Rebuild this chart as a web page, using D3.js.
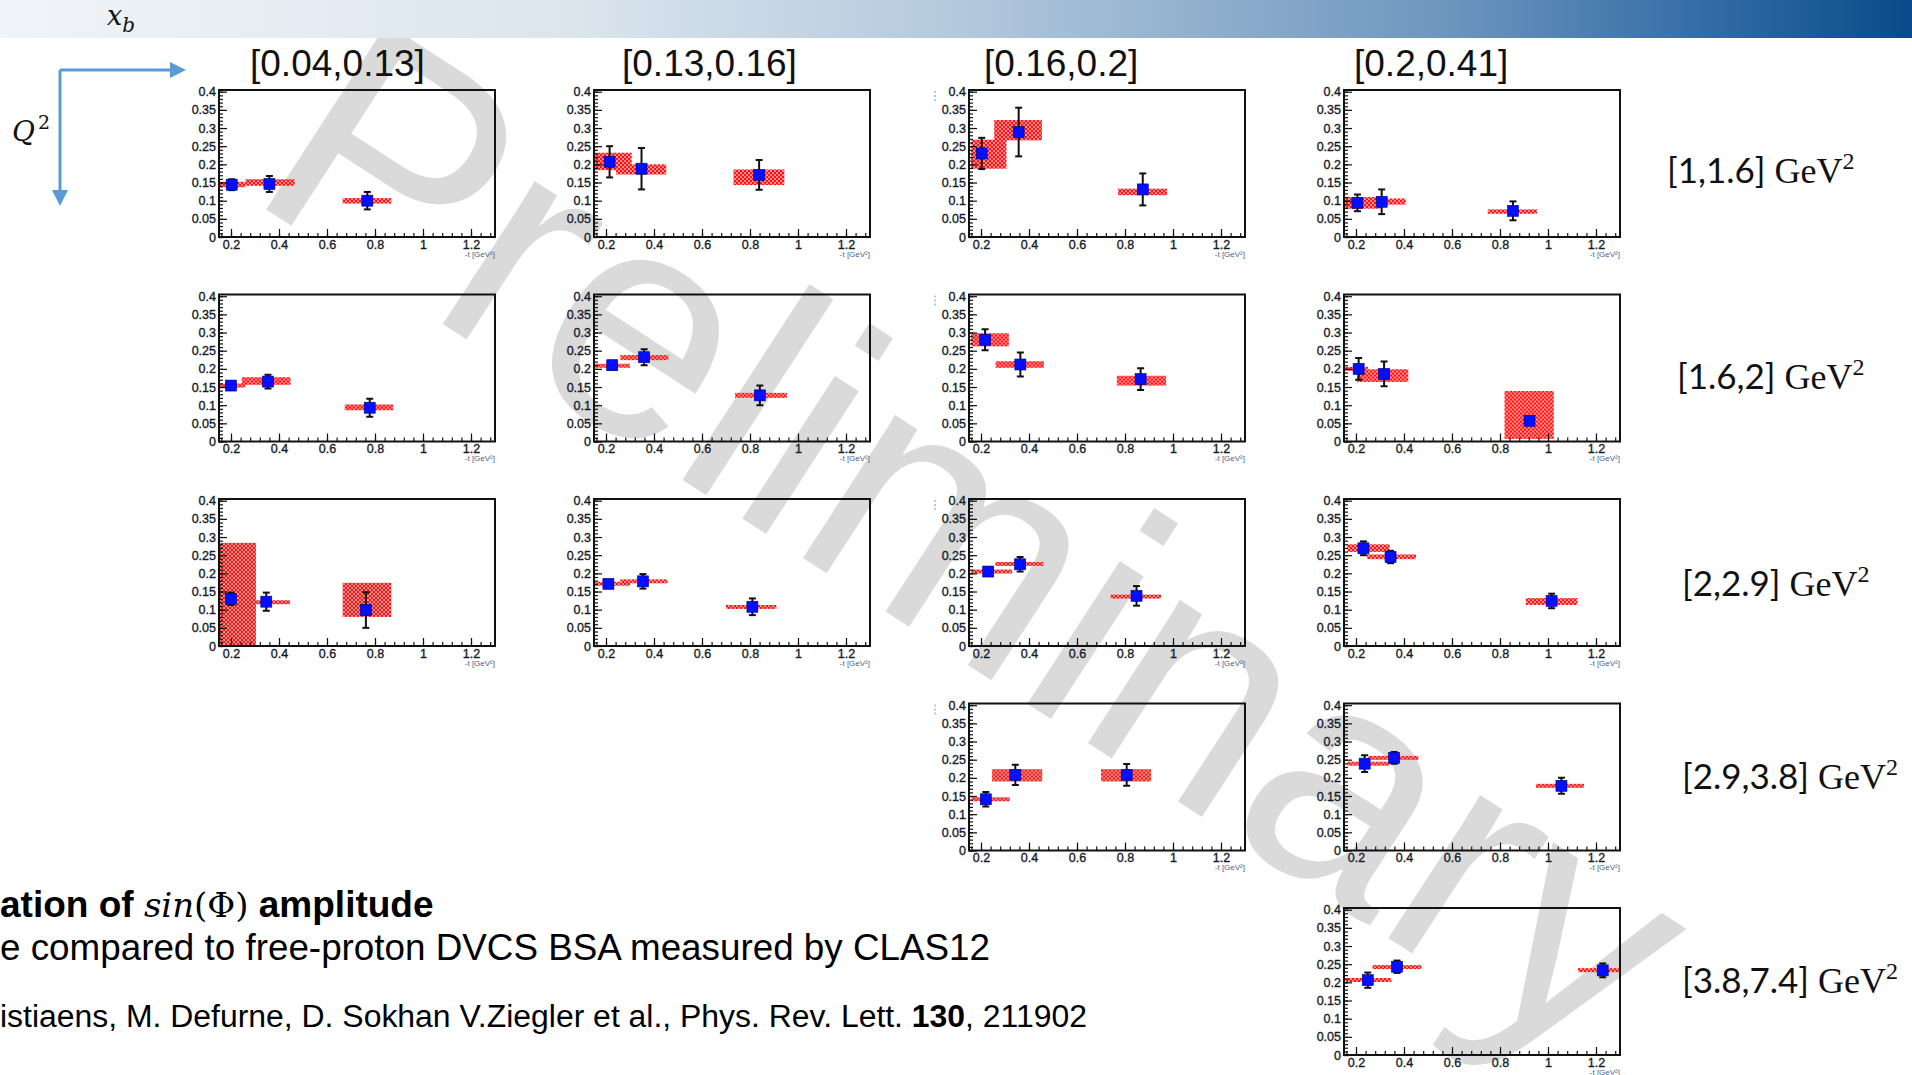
<!DOCTYPE html>
<html>
<head>
<meta charset="utf-8">
<script src="https://cdn.jsdelivr.net/npm/d3@7"></script>
<style>
  html, body { margin: 0; padding: 0; background: #fff; overflow: hidden; }
  svg { display: block; }
</style>
</head>
<body>
<svg id="slide" width="1912" height="1075"></svg>
<script>
// ---- bins and axis ticks ----
const xbBins = ["[0.04,0.13]", "[0.13,0.16]", "[0.16,0.2]", "[0.2,0.41]"];
const q2Bins = ["[1,1.6]", "[1.6,2]", "[2,2.9]", "[2.9,3.8]", "[3.8,7.4]"];
const tTicks = [0.2, 0.4, 0.6, 0.8, 1, 1.2];
const tTickLabels = ["0.2", "0.4", "0.6", "0.8", "1", "1.2"];
const aTicks = [0, 0.05, 0.1, 0.15, 0.2, 0.25, 0.3, 0.35, 0.4];
const aTickLabels = ["0", "0.05", "0.1", "0.15", "0.2", "0.25", "0.3", "0.35", "0.4"];

// ---- sin(phi) amplitude per (Q2, xB) bin ----
// each point: [-t, amplitude, stat. error, sys box -t low, sys box -t high, sys low, sys high]
const q2b1_xb1 = [[0.203, 0.144, 0.015, 0.15, 0.26, 0.137, 0.152],
                  [0.36, 0.146, 0.022, 0.26, 0.465, 0.141, 0.159],
                  [0.768, 0.1, 0.024, 0.665, 0.868, 0.092, 0.107]];
const q2b1_xb2 = [[0.215, 0.207, 0.043, 0.15, 0.307, 0.184, 0.232],
                  [0.348, 0.188, 0.057, 0.242, 0.451, 0.172, 0.2],
                  [0.838, 0.171, 0.041, 0.731, 0.943, 0.143, 0.186]];
const q2b1_xb3 = [[0.203, 0.23, 0.043, 0.159, 0.306, 0.188, 0.268],
                  [0.357, 0.289, 0.067, 0.255, 0.454, 0.266, 0.322],
                  [0.874, 0.131, 0.044, 0.771, 0.975, 0.115, 0.133]];
const q2b1_xb4 = [[0.206, 0.094, 0.023, 0.146, 0.302, 0.078, 0.11],
                  [0.307, 0.097, 0.034, 0.219, 0.407, 0.089, 0.106],
                  [0.854, 0.072, 0.026, 0.749, 0.954, 0.064, 0.076]];
const q2b2_xb1 = [[0.2, 0.154, 0.004, 0.15, 0.26, 0.152, 0.156],
                  [0.354, 0.165, 0.019, 0.245, 0.448, 0.156, 0.177],
                  [0.778, 0.093, 0.025, 0.674, 0.876, 0.086, 0.102]];
const q2b2_xb2 = [[0.226, 0.21, 0.012, 0.15, 0.3, 0.203, 0.214],
                  [0.359, 0.232, 0.022, 0.26, 0.46, 0.224, 0.238],
                  [0.841, 0.127, 0.027, 0.738, 0.954, 0.12, 0.134]];
const q2b2_xb3 = [[0.217, 0.28, 0.029, 0.159, 0.316, 0.262, 0.298],
                  [0.364, 0.212, 0.033, 0.261, 0.462, 0.203, 0.221],
                  [0.865, 0.172, 0.03, 0.766, 0.971, 0.154, 0.181]];
const q2b2_xb4 = [[0.211, 0.2, 0.03, 0.146, 0.25, 0.197, 0.203],
                  [0.317, 0.186, 0.034, 0.204, 0.418, 0.164, 0.199],
                  [0.923, 0.057, 0.007, 0.819, 1.024, 0.007, 0.139]];
const q2b3_xb1 = [[0.2, 0.13, 0.017, 0.15, 0.304, 0, 0.284],
                  [0.347, 0.122, 0.025, 0.294, 0.446, 0.116, 0.125],
                  [0.762, 0.099, 0.049, 0.665, 0.868, 0.08, 0.174]];
const q2b3_xb2 = [[0.21, 0.171, 0.006, 0.15, 0.3, 0.168, 0.175],
                  [0.354, 0.178, 0.02, 0.26, 0.456, 0.175, 0.181],
                  [0.81, 0.108, 0.023, 0.7, 0.91, 0.104, 0.111]];
const q2b3_xb3 = [[0.23, 0.205, 0.008, 0.16, 0.33, 0.203, 0.207],
                  [0.363, 0.225, 0.02, 0.26, 0.46, 0.223, 0.229],
                  [0.848, 0.138, 0.027, 0.74, 0.95, 0.134, 0.138]];
const q2b3_xb4 = [[0.231, 0.269, 0.019, 0.164, 0.34, 0.259, 0.28],
                  [0.344, 0.245, 0.017, 0.246, 0.45, 0.239, 0.252],
                  [1.015, 0.124, 0.02, 0.908, 1.123, 0.113, 0.132]];
const q2b4_xb3 = [[0.22, 0.141, 0.02, 0.16, 0.32, 0.139, 0.143],
                  [0.343, 0.208, 0.028, 0.246, 0.455, 0.19, 0.224],
                  [0.807, 0.208, 0.03, 0.7, 0.909, 0.19, 0.224]];
const q2b4_xb4 = [[0.236, 0.239, 0.023, 0.164, 0.34, 0.236, 0.242],
                  [0.359, 0.255, 0.016, 0.25, 0.46, 0.252, 0.258],
                  [1.056, 0.178, 0.022, 0.95, 1.15, 0.176, 0.18]];
const q2b5_xb4 = [[0.249, 0.206, 0.021, 0.156, 0.347, 0.202, 0.211],
                  [0.371, 0.243, 0.017, 0.269, 0.472, 0.238, 0.246],
                  [1.228, 0.233, 0.019, 1.125, 1.3, 0.232, 0.235]];

const panels = [
  { row: 0, col: 0, pts: q2b1_xb1 }, { row: 0, col: 1, pts: q2b1_xb2 },
  { row: 0, col: 2, pts: q2b1_xb3 }, { row: 0, col: 3, pts: q2b1_xb4 },
  { row: 1, col: 0, pts: q2b2_xb1 }, { row: 1, col: 1, pts: q2b2_xb2 },
  { row: 1, col: 2, pts: q2b2_xb3 }, { row: 1, col: 3, pts: q2b2_xb4 },
  { row: 2, col: 0, pts: q2b3_xb1 }, { row: 2, col: 1, pts: q2b3_xb2 },
  { row: 2, col: 2, pts: q2b3_xb3 }, { row: 2, col: 3, pts: q2b3_xb4 },
  { row: 3, col: 2, pts: q2b4_xb3 }, { row: 3, col: 3, pts: q2b4_xb4 },
  { row: 4, col: 3, pts: q2b5_xb4 }
];

// ---- layout ----
const W = 1912, H = 1075;
const PW = 276, PH = 147;
const colLeft = [219, 594, 969, 1344];
const rowTop = [90, 294.5, 499, 703.5, 908];
const colHeadX = [250, 622, 984, 1354];
const rowLabelX = [1667, 1677, 1682, 1682, 1682];
const rowLabelY = [183, 389, 596, 789, 993];

const svg = d3.select("#slide");
const defs = svg.append("defs");

// title bar gradient
const grad = defs.append("linearGradient").attr("id", "bar")
  .attr("x1", 0).attr("x2", 1).attr("y1", 0).attr("y2", 0);
[[0, "#f1f4f8"], [0.3, "#dbe5ee"], [0.5, "#b4c9dd"], [0.76, "#6c95be"], [0.9, "#2f6aa4"], [1, "#0a4a8a"]]
  .forEach(([o, c]) => grad.append("stop").attr("offset", o).attr("stop-color", c));

// hatched fill for the systematic boxes
const pat = defs.append("pattern").attr("id", "sysFill")
  .attr("patternUnits", "userSpaceOnUse").attr("width", 4).attr("height", 4);
pat.append("rect").attr("width", 4).attr("height", 4).attr("fill", "#ff1414");
pat.append("circle").attr("cx", 1).attr("cy", 1).attr("r", 0.85).attr("fill", "#fff");
pat.append("circle").attr("cx", 3).attr("cy", 3).attr("r", 0.85).attr("fill", "#fff");

svg.append("rect").attr("width", W).attr("height", H).attr("fill", "#fff");

// "Preliminary" watermark
svg.append("text")
  .attr("transform", "translate(980,540) rotate(33)")
  .attr("text-anchor", "middle").attr("dominant-baseline", "central")
  .attr("font-family", "Liberation Sans, Arial, sans-serif")
  .attr("font-size", 322).attr("fill", "#dadada")
  .text("Preliminary");

// title bar
svg.append("rect").attr("x", 0).attr("y", 0).attr("width", W).attr("height", 38).attr("fill", "url(#bar)");
const xbLab = svg.append("text").attr("x", 107).attr("y", 25)
  .attr("font-family", "DejaVu Serif, serif").attr("font-style", "italic").attr("font-size", 27).attr("fill", "#111");
xbLab.append("tspan").text("x");
xbLab.append("tspan").attr("dy", 7).attr("font-size", 20).text("b");

// bin-direction arrows
const arrowCol = "#5b9bd5";
svg.append("path").attr("d", "M60,70 H172 M60,70 V190")
  .attr("fill", "none").attr("stroke", arrowCol).attr("stroke-width", 3);
svg.append("path").attr("d", "M186,70 L170,62 L170,78 Z").attr("fill", arrowCol);
svg.append("path").attr("d", "M60,206 L52,190 L68,190 Z").attr("fill", arrowCol);
const qLab = svg.append("text").attr("x", 12).attr("y", 141)
  .attr("font-family", "DejaVu Serif, serif").attr("font-style", "italic").attr("font-size", 28).attr("fill", "#111");
qLab.append("tspan").text("Q");
qLab.append("tspan").attr("dy", -12).attr("dx", 3).attr("font-size", 19).attr("font-style", "normal").text("2");

// column headers (x_B bins)
xbBins.forEach((t, i) => {
  svg.append("text").attr("x", colHeadX[i]).attr("y", 76)
    .attr("font-family", "Liberation Sans, Arial, sans-serif").attr("font-size", 37).attr("fill", "#111")
    .text(t);
});

// row labels (Q2 bins)
q2Bins.forEach((t, i) => {
  const lab = svg.append("text").attr("x", rowLabelX[i]).attr("y", rowLabelY[i]).attr("fill", "#111");
  lab.append("tspan").attr("font-family", "Lato, Open Sans, sans-serif").attr("font-size", 35).text(t);
  lab.append("tspan").attr("font-family", "Liberation Serif, serif").attr("font-size", 36).attr("dx", 9).text("GeV");
  lab.append("tspan").attr("font-family", "Liberation Serif, serif").attr("font-size", 24).attr("dy", -14).text("2");
});

// ---- panels ----
const x = d3.scaleLinear().domain([0.15, 1.3]).range([0, PW]);
const y = d3.scaleLinear().domain([0, 0.4047]).range([PH, 0]);
const labelFont = "Liberation Sans, Arial, sans-serif";

panels.forEach((p, i) => {
  const g = svg.append("g").attr("transform", `translate(${colLeft[p.col]},${rowTop[p.row]})`);
  const clipId = "frame" + i;
  defs.append("clipPath").attr("id", clipId).append("rect").attr("width", PW).attr("height", PH);
  const plot = g.append("g").attr("clip-path", `url(#${clipId})`);

  // systematic boxes
  plot.selectAll("rect.sys").data(p.pts).join("rect").attr("class", "sys")
    .attr("x", d => x(d[3]))
    .attr("width", d => x(d[4]) - x(d[3]))
    .attr("y", d => Math.min(y(d[6]), (y(d[5]) + y(d[6])) / 2 - 2))
    .attr("height", d => Math.max(y(d[5]) - y(d[6]), 4))
    .attr("fill", "url(#sysFill)");

  // statistical error bars
  const eb = plot.selectAll("g.err").data(p.pts).join("g").attr("class", "err");
  eb.append("line").attr("x1", d => x(d[0])).attr("x2", d => x(d[0]))
    .attr("y1", d => y(d[1] - d[2])).attr("y2", d => y(d[1] + d[2]));
  eb.append("line").attr("x1", d => x(d[0]) - 3.5).attr("x2", d => x(d[0]) + 3.5)
    .attr("y1", d => y(d[1] - d[2])).attr("y2", d => y(d[1] - d[2]));
  eb.append("line").attr("x1", d => x(d[0]) - 3.5).attr("x2", d => x(d[0]) + 3.5)
    .attr("y1", d => y(d[1] + d[2])).attr("y2", d => y(d[1] + d[2]));
  eb.selectAll("line").attr("stroke", "#111").attr("stroke-width", 2);

  // markers
  plot.selectAll("rect.pt").data(p.pts).join("rect").attr("class", "pt")
    .attr("x", d => x(d[0]) - 5.5).attr("y", d => y(d[1]) - 5.5)
    .attr("width", 11).attr("height", 11)
    .attr("fill", "#0010ff").attr("stroke", "#00007a").attr("stroke-width", 0.6);

  // axes: ticks point into the frame
  const yMinor = g.append("g").call(d3.axisLeft(y).tickValues(d3.range(0, 0.4001, 0.01)).tickSize(-4).tickFormat(""));
  const yMajor = g.append("g").call(d3.axisLeft(y).tickValues(aTicks).tickSize(-8).tickPadding(3)
    .tickFormat((d, k) => aTickLabels[k]));
  const xMinor = g.append("g").attr("transform", `translate(0,${PH})`)
    .call(d3.axisBottom(x).tickValues(d3.range(0.16, 1.29, 0.04)).tickSize(-4).tickFormat(""));
  const xMajor = g.append("g").attr("transform", `translate(0,${PH})`)
    .call(d3.axisBottom(x).tickValues(tTicks).tickSize(-8).tickPadding(2)
      .tickFormat((d, k) => tTickLabels[k]));
  [yMinor, yMajor, xMinor, xMajor].forEach(a => {
    a.select(".domain").remove();
    a.selectAll(".tick line").attr("stroke", "#111").attr("stroke-width", 1.2);
    a.selectAll(".tick text").attr("font-family", labelFont).attr("font-size", 12.5)
      .attr("fill", "#141c2a").attr("stroke", "#141c2a").attr("stroke-width", 0.35);
  });
  xMajor.selectAll(".tick text").attr("dy", "0.78em");

  // frame
  g.append("rect").attr("width", PW).attr("height", PH)
    .attr("fill", "none").attr("stroke", "#111").attr("stroke-width", 2);

  // axis title
  g.append("text").attr("x", PW).attr("y", PH + 19.5).attr("text-anchor", "end")
    .attr("font-family", labelFont).attr("font-size", 8).attr("fill", "#4d5f8a")
    .text("-t [GeV²]");

  if (p.col === 2) {
    g.append("line").attr("x1", -34).attr("x2", -34).attr("y1", 1).attr("y2", 12)
      .attr("stroke", "#8fbbe3").attr("stroke-width", 1.5).attr("stroke-dasharray", "2,2");
  }
});

// ---- footer text ----
const l1 = svg.append("text").attr("x", 0).attr("y", 917).attr("fill", "#000").attr("font-size", 37);
l1.append("tspan").attr("font-family", labelFont).attr("font-weight", "bold").text("ation of ");
l1.append("tspan").attr("font-family", "DejaVu Serif, serif").attr("font-style", "italic").attr("font-size", 34).text("sin");
l1.append("tspan").attr("font-family", "DejaVu Serif, serif").attr("font-size", 34).text("(Φ)");
l1.append("tspan").attr("font-family", labelFont).attr("font-weight", "bold").text(" amplitude");

svg.append("text").attr("x", 0).attr("y", 960).attr("font-family", labelFont).attr("font-size", 36)
  .attr("textLength", 990).attr("lengthAdjust", "spacingAndGlyphs").attr("fill", "#000")
  .text("e compared to free-proton DVCS BSA measured by CLAS12");

const l3 = svg.append("text").attr("x", 0).attr("y", 1027).attr("font-family", labelFont)
  .attr("font-size", 31).attr("fill", "#000")
  .attr("textLength", 1087).attr("lengthAdjust", "spacingAndGlyphs");
l3.append("tspan").text("istiaens, M. Defurne, D. Sokhan V.Ziegler et al., Phys. Rev. Lett. ");
l3.append("tspan").attr("font-weight", "bold").text("130");
l3.append("tspan").text(", 211902");
</script>
</body>
</html>
